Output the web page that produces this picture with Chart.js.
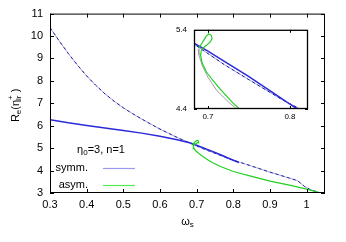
<!DOCTYPE html>
<html lang="en">
<head>
<meta charset="UTF-8">
<title>Re(eta) vs omega_s</title>
<script src="https://cdn.jsdelivr.net/npm/chart.js"></script>
<style>
  body { margin: 0; background: #fff; }
  .wrap { position: relative; width: 346px; height: 242px; }
  #inset { position: absolute; left: 155px; top: 18px; }
</style>
</head>
<body>
<div class="wrap">
  <canvas id="main" width="346" height="242"></canvas>
  <canvas id="inset" width="160" height="110"></canvas>
</div>
<script>
// dashed reference curve
const refX = [0.3, 0.325, 0.35, 0.375, 0.4, 0.425, 0.45, 0.475, 0.5, 0.525, 0.55, 0.575, 0.6, 0.625, 0.65, 0.69, 0.72, 0.75, 0.79, 0.82, 0.85, 0.9, 0.95, 0.975, 0.985, 0.995, 1.01, 1.025, 1.036];
const refY = [10.38, 9.78, 9.22, 8.7, 8.22, 7.8, 7.42, 7.09, 6.8, 6.54, 6.3, 6.07, 5.85, 5.65, 5.45, 5.17, 4.96, 4.77, 4.52, 4.36, 4.2, 3.93, 3.68, 3.55, 3.42, 3.28, 3.15, 3.07, 3.01];
// symm.
const symmX = [0.3, 0.35, 0.4, 0.45, 0.5, 0.55, 0.6, 0.65, 0.683, 0.7, 0.72, 0.75, 0.77, 0.79, 0.8, 0.815];
const symmY = [6.27, 6.13, 6.01, 5.9, 5.79, 5.67, 5.53, 5.36, 5.23, 5.13, 5.0, 4.81, 4.67, 4.53, 4.46, 4.36];
// asym. (with the small loop near the crossing)
const asymX = [0.689, 0.692, 0.695, 0.698, 0.701, 0.704, 0.705, 0.703, 0.699, 0.695, 0.692, 0.691, 0.693, 0.698, 0.706, 0.715, 0.73, 0.745, 0.765, 0.8, 0.85, 0.9, 0.95, 1.0, 1.036];
const asymY = [5.17, 5.22, 5.27, 5.32, 5.35, 5.33, 5.29, 5.25, 5.21, 5.18, 5.14, 5.08, 4.98, 4.87, 4.76, 4.65, 4.48, 4.34, 4.18, 3.96, 3.74, 3.53, 3.36, 3.17, 3.01];
// grey companion of asym. only visible in the inset
const asymRefX = [0.688, 0.689, 0.693, 0.7, 0.711, 0.727, 0.74, 0.75];
const asymRefY = [5.16, 5.08, 4.95, 4.8, 4.63, 4.47, 4.36, 4.28];

const xTicks = [0.3, 0.4, 0.5, 0.6, 0.7, 0.8, 0.9, 1];
const yTicks = [3, 4, 5, 6, 7, 8, 9, 10, 11];
const insetXTicks = [0.7, 0.8];
const insetYTicks = [4.4, 5.4];

const FONT = '"Liberation Sans", Arial, sans-serif';

function pts(xs, ys) {
    return xs.map((x, i) => ({ x: x, y: ys[i] }));
}

function makeDatasets(withAsymRef) {
    const ds = [
        { data: pts(asymX, asymY), borderColor: '#22d022', borderWidth: 1.2, order: 1 },
        { data: pts(symmX, symmY), borderColor: '#2a2ad8', borderWidth: 1.5, order: 2 },
        { data: pts(refX, refY), borderColor: '#2020b0', borderWidth: 1, borderDash: [3, 3], order: 3 },
        { data: pts(refX, refY), borderColor: '#a8a8cc', borderWidth: 1, order: 4 }
    ];
    if (withAsymRef) {
        ds.push({ data: pts(asymRefX, asymRefY), borderColor: '#a0a0a0', borderWidth: 1, order: 5 });
    }
    ds.forEach(d => { d.showLine = true; d.pointRadius = 0; d.fill = false; });
    return ds;
}

// frame + inward ticks on all four sides
const framePlugin = {
    id: 'frame',
    afterDatasetsDraw(chart, args, opts) {
        const ctx = chart.ctx;
        const a = chart.chartArea;
        const len = opts.len || 4;
        ctx.save();
        ctx.strokeStyle = '#000';
        ctx.lineWidth = 1;
        ctx.beginPath();
        chart.scales.x.ticks.forEach(t => {
            const px = Math.round(chart.scales.x.getPixelForValue(t.value)) + 0.5;
            ctx.moveTo(px, a.bottom); ctx.lineTo(px, a.bottom - len);
            ctx.moveTo(px, a.top); ctx.lineTo(px, a.top + len);
        });
        chart.scales.y.ticks.forEach(t => {
            const py = Math.round(chart.scales.y.getPixelForValue(t.value)) + 0.5;
            ctx.moveTo(a.left, py); ctx.lineTo(a.left + len, py);
            ctx.moveTo(a.right, py); ctx.lineTo(a.right - len, py);
        });
        ctx.stroke();
        ctx.lineWidth = opts.frameWidth || 1;
        ctx.strokeRect(a.left + 0.5, a.top + 0.5, a.right - a.left - 1, a.bottom - a.top - 1);
        ctx.restore();
    }
};

// draws base text followed by sub/superscript pieces
function richText(ctx, parts, x, y, align) {
    const widths = parts.map(p => {
        ctx.font = p.size + 'px ' + FONT;
        let w = ctx.measureText(p.t).width;
        if (p.sup) { ctx.font = p.supSize + 'px ' + FONT; w = Math.max(w, ctx.measureText(p.sup).width); }
        return w;
    });
    const total = widths.reduce((s, w) => s + w, 0);
    let cx = align === 'center' ? x - total / 2 : (align === 'right' ? x - total : x);
    ctx.textAlign = 'left';
    ctx.textBaseline = 'middle';
    parts.forEach((p, i) => {
        ctx.font = p.size + 'px ' + FONT;
        ctx.fillText(p.t, cx, y + (p.dy || 0));
        if (p.sup) {
            ctx.font = p.supSize + 'px ' + FONT;
            ctx.fillText(p.sup, cx, y + p.supDy);
        }
        cx += widths[i];
    });
}

const labelsPlugin = {
    id: 'labels',
    afterDraw(chart) {
        const ctx = chart.ctx;
        const a = chart.chartArea;
        ctx.save();
        ctx.fillStyle = '#000';
        // x axis title
        richText(ctx, [{ t: 'ω', size: 11 }, { t: 's', size: 8, dy: 3 }], (a.left + a.right) / 2, 222, 'center');
        // y axis title
        ctx.save();
        ctx.translate(16, (a.top + a.bottom) / 2 + 2);
        ctx.rotate(-Math.PI / 2);
        richText(ctx, [
            { t: 'R', size: 11 }, { t: 'e', size: 8, dy: 3 },
            { t: '(η', size: 11 },
            { t: 'lr', size: 8, dy: 3, sup: '+', supSize: 8, supDy: -5 },
            { t: ' )', size: 11 }
        ], 0, 0, 'center');
        ctx.restore();
        // legend
        richText(ctx, [{ t: 'η', size: 11 }, { t: '0', size: 8, dy: 3 }, { t: '=3, n=1', size: 11 }], 101, 150, 'center');
        ctx.font = '11px ' + FONT;
        ctx.textAlign = 'right';
        ctx.textBaseline = 'middle';
        ctx.fillText('symm.', 88, 168);
        ctx.fillText('asym.', 88, 185);
        ctx.lineWidth = 1.2;
        ctx.strokeStyle = '#9a9af0';
        ctx.beginPath(); ctx.moveTo(103, 168.5); ctx.lineTo(135, 168.5); ctx.stroke();
        ctx.strokeStyle = '#55e855';
        ctx.beginPath(); ctx.moveTo(103, 185.5); ctx.lineTo(135, 185.5); ctx.stroke();
        ctx.restore();
    }
};

function setTicks(values) {
    return scale => { scale.ticks = values.map(v => ({ value: v })); };
}

new Chart(document.getElementById('main'), {
    type: 'scatter',
    data: { datasets: makeDatasets(false) },
    options: {
        responsive: false,
        animation: false,
        layout: { padding: { left: 0, right: 21, top: 13, bottom: 0 } },
        plugins: { legend: { display: false }, tooltip: { enabled: false }, frame: { len: 4 } },
        scales: {
            x: {
                type: 'linear', min: 0.3, max: 1.05,
                afterBuildTicks: setTicks(xTicks),
                afterFit: s => { s.height = 49; },
                grid: { display: false, drawTicks: false },
                border: { display: false },
                ticks: { color: '#000', padding: 5, font: { family: FONT, size: 11 }, callback: v => String(v), maxRotation: 0, autoSkip: false }
            },
            y: {
                type: 'linear', min: 3, max: 11,
                afterBuildTicks: setTicks(yTicks),
                afterFit: s => { s.width = 50; },
                grid: { display: false, drawTicks: false },
                border: { display: false },
                ticks: { color: '#000', padding: 7, font: { family: FONT, size: 11 }, autoSkip: false }
            }
        }
    },
    plugins: [framePlugin, labelsPlugin]
});

new Chart(document.getElementById('inset'), {
    type: 'scatter',
    data: { datasets: makeDatasets(true) },
    options: {
        responsive: false,
        animation: false,
        layout: { padding: { left: 0, right: 7, top: 8, bottom: 0 } },
        plugins: { legend: { display: false }, tooltip: { enabled: false }, frame: { len: 3, frameWidth: 1.3 } },
        scales: {
            x: {
                type: 'linear', min: 0.683, max: 0.822,
                afterBuildTicks: setTicks(insetXTicks),
                afterFit: s => { s.height = 19; },
                grid: { display: false, drawTicks: false },
                border: { display: false },
                ticks: { color: '#000', padding: 3, font: { family: FONT, size: 8 }, callback: v => String(v), maxRotation: 0, autoSkip: false }
            },
            y: {
                type: 'linear', min: 4.4, max: 5.4,
                afterBuildTicks: setTicks(insetYTicks),
                afterFit: s => { s.width = 39; },
                grid: { display: false, drawTicks: false },
                border: { display: false },
                ticks: { color: '#000', padding: 7, font: { family: FONT, size: 8 }, callback: v => String(v), autoSkip: false }
            }
        }
    },
    plugins: [framePlugin]
});
</script>
</body>
</html>
